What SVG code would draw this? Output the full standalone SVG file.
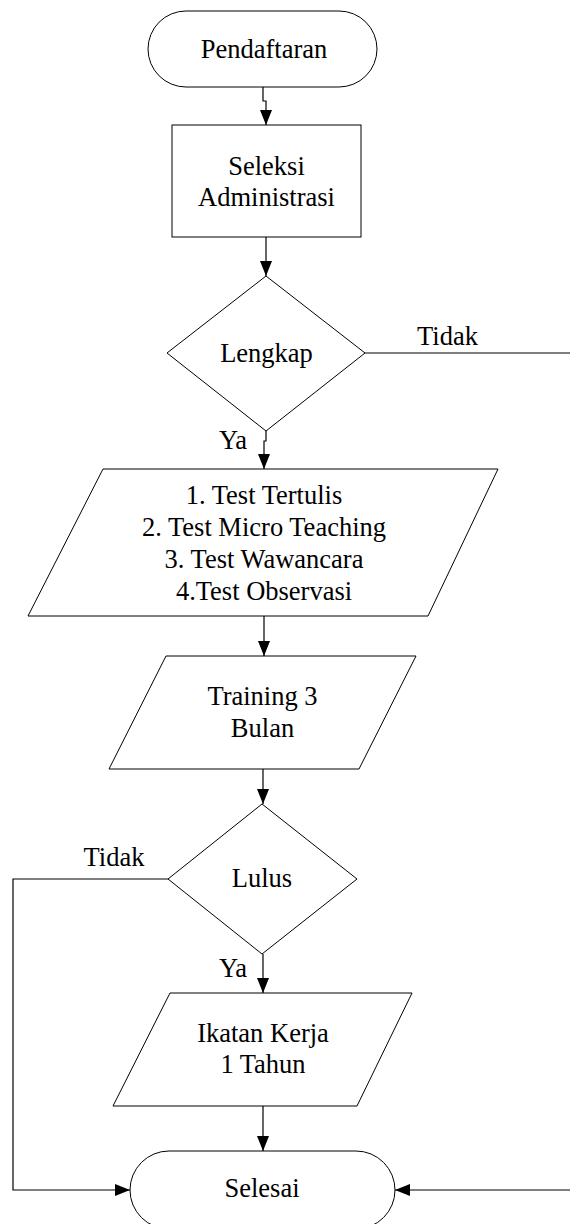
<svg xmlns="http://www.w3.org/2000/svg" width="570" height="1224" viewBox="0 0 570 1224">
  <style>
    .shape { fill: #ffffff; stroke: #000000; stroke-width: 1; }
    .conn { fill: none; stroke: #000000; stroke-width: 1.2; }
    text { font-family: "Liberation Serif", "Times New Roman", serif; font-size: 26.5px; fill: #000000; text-anchor: middle; }
  </style>
  <defs>
    <marker id="arrow" markerUnits="userSpaceOnUse" markerWidth="15" markerHeight="12" refX="15" refY="6" orient="auto">
      <path d="M0,0 L15,6 L0,12 z" fill="#000000"/>
    </marker>
  </defs>
  <rect width="570" height="1224" fill="#ffffff"/>

  <g id="connectors">
    <path class="conn" d="M263,87 V101 H266 V125" marker-end="url(#arrow)"/>
    <path class="conn" d="M266,237 V276" marker-end="url(#arrow)"/>
    <path class="conn" d="M266,431 V441 H264 V469" marker-end="url(#arrow)"/>
    <path class="conn" d="M264,616 V656" marker-end="url(#arrow)"/>
    <path class="conn" d="M263,769 V804" marker-end="url(#arrow)"/>
    <path class="conn" d="M263,954 V993" marker-end="url(#arrow)"/>
    <path class="conn" d="M263,1106 V1151" marker-end="url(#arrow)"/>
    <path class="conn" d="M168,879 H13 V1190 H130" marker-end="url(#arrow)"/>
    <path class="conn" d="M365,353 H580 V1190 H395" marker-end="url(#arrow)"/>
    <text x="447.5" y="345">Tidak</text>
    <text x="233" y="449">Ya</text>
    <text x="114" y="866">Tidak</text>
    <text x="233" y="977">Ya</text>
  </g>

  <g id="pendaftaran">
    <rect class="shape" x="148" y="11" width="229" height="76" rx="38" ry="38"/>
    <text x="264" y="57.5">Pendaftaran</text>
  </g>

  <g id="seleksi">
    <rect class="shape" x="172" y="125" width="189" height="112"/>
    <text x="266.5" y="175">Seleksi</text>
    <text x="266.5" y="206">Administrasi</text>
  </g>

  <g id="lengkap">
    <polygon class="shape" points="266,276 365,353 266,431 167,353"/>
    <text x="266.5" y="362">Lengkap</text>
  </g>

  <g id="test">
    <polygon class="shape" points="103,469 498,469 428,616 28,616"/>
    <text x="264" y="504">1. Test Tertulis</text>
    <text x="264" y="536">2. Test Micro Teaching</text>
    <text x="264" y="568">3. Test Wawancara</text>
    <text x="264" y="600">4.Test Observasi</text>
  </g>

  <g id="training">
    <polygon class="shape" points="166,656 416,656 359,769 109,769"/>
    <text x="262.5" y="705">Training 3</text>
    <text x="262.5" y="737">Bulan</text>
  </g>

  <g id="lulus">
    <polygon class="shape" points="262,804 357,879 262,954 168,879"/>
    <text x="262" y="887">Lulus</text>
  </g>

  <g id="ikatan">
    <polygon class="shape" points="170,993 412,993 357,1106 113,1106"/>
    <text x="263" y="1042">Ikatan Kerja</text>
    <text x="263" y="1073">1 Tahun</text>
  </g>

  <g id="selesai">
    <rect class="shape" x="130" y="1151" width="265" height="78" rx="39" ry="39"/>
    <text x="262" y="1197">Selesai</text>
  </g>
</svg>
